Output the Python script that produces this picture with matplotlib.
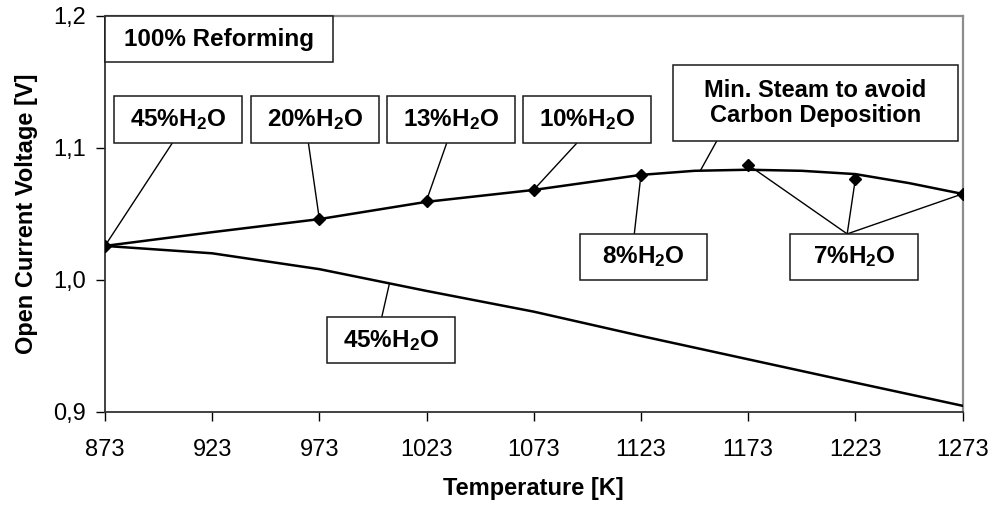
import numpy as np
import matplotlib
matplotlib.use("Agg")
import matplotlib.pyplot as plt
from matplotlib.patches import Rectangle

plt.rcParams['font.family'] = ['Liberation Sans', 'DejaVu Sans']
plt.rcParams['mathtext.fontset'] = 'custom'
plt.rcParams['mathtext.rm'] = 'Liberation Sans:bold'
plt.rcParams['mathtext.bf'] = 'Liberation Sans:bold'
plt.rcParams['mathtext.it'] = 'Liberation Sans:bold'

# Temperature grid [K]
temps = [873, 923, 973, 1023, 1073, 1123, 1173, 1223, 1273]

# OCV at minimum steam content (smooth curve)
min_steam_T = [873, 923, 973, 1023, 1073, 1123, 1148, 1173, 1198, 1223, 1248, 1273]
min_steam_V = [1.0256, 1.036, 1.0459, 1.059, 1.068, 1.0794, 1.0825, 1.0833,
               1.0825, 1.080, 1.0732, 1.065]

# OCV points at the individual steam contents
point_T = [873, 973, 1023, 1073, 1123, 1173, 1223, 1273]
point_V = [1.0256, 1.0459, 1.060, 1.0681, 1.0794, 1.087, 1.0762, 1.065]

# OCV at constant 45 % steam
h2o45_V = [1.0256, 1.020, 1.008, 0.9915, 0.9758, 0.9574, 0.9397, 0.922, 0.9045]

xticks = [873, 923, 973, 1023, 1073, 1123, 1173, 1223, 1273]
yticks = [0.9, 1.0, 1.1, 1.2]
ytick_labels = ["0,9", "1,0", "1,1", "1,2"]

fig = plt.figure(figsize=(9.92, 5.18), dpi=100)
ax = fig.add_axes([0.1058, 0.2052, 0.8645, 0.7645])

ax.plot(min_steam_T, min_steam_V, color='black', lw=1.8, zorder=3)
ax.plot(temps, h2o45_V, color='black', lw=1.8, zorder=3)
ax.plot(point_T, point_V, linestyle='none', marker='D', markersize=6.5,
        color='black', zorder=4)

ax.set_xlim(873, 1273)
ax.set_ylim(0.9, 1.2)
ax.set_xticks(xticks)
ax.set_xticklabels([str(t) for t in xticks])
ax.set_yticks(yticks)
ax.set_yticklabels(ytick_labels)
ax.tick_params(axis='both', direction='out', length=6.5, width=1.0,
               labelsize=17, colors='black')
ax.tick_params(axis='x', pad=13)
ax.tick_params(axis='y', pad=7)

for side in ['left', 'bottom']:
    ax.spines[side].set_color('#333333')
    ax.spines[side].set_linewidth(1.3)
for side in ['top', 'right']:
    ax.spines[side].set_color('#8c8c8c')
    ax.spines[side].set_linewidth(1.6)

ax.set_xlabel('Temperature [K]', fontsize=17, fontweight='bold', labelpad=12)
ax.set_ylabel('Open Current Voltage [V]', fontsize=17, fontweight='bold', labelpad=11)

h2o = lambda p: r'$\mathbf{' + p + r'\%H_2O}$'

# label boxes: (x0, x1, y0, y1) in data coordinates, text
boxes = [
    ((873.0, 979.3, 1.1646, 1.2), '100% Reforming'),
    ((877.3, 937.1, 1.1035, 1.1388), h2o('45')),
    ((941.0, 1000.6, 1.1035, 1.1388), h2o('20')),
    ((1004.7, 1064.3, 1.1035, 1.1388), h2o('13')),
    ((1068.1, 1127.7, 1.1035, 1.1388), h2o('10')),
    ((1137.8, 1271.0, 1.1052, 1.1623), 'Min. Steam to avoid\nCarbon Deposition'),
    ((1094.6, 1154.0, 0.9998, 1.0347), h2o('8')),
    ((1192.7, 1252.3, 0.9998, 1.0347), h2o('7')),
    ((976.7, 1036.3, 0.9367, 0.9716), h2o('45')),
]
for (x0, x1, y0, y1), txt in boxes:
    ax.add_patch(Rectangle((x0, y0), x1 - x0, y1 - y0, facecolor='white',
                           edgecolor='#1a1a1a', lw=1.1, zorder=6, clip_on=False))
    ax.text((x0 + x1) / 2, (y0 + y1) / 2, txt, ha='center', va='center',
            fontsize=17.5 if '\n' not in txt else 17, fontweight='bold',
            linespacing=1.1, zorder=7)

# leader lines from the boxes to the curve points
def leader(start, end):
    ax.plot([start[0], end[0]], [start[1], end[1]], color='black', lw=1.0,
            zorder=5, solid_capstyle='butt')

pt = dict(zip(point_T, point_V))
leader((904.4, 1.1035), (873, pt[873]))
leader((967.9, 1.1035), (973, pt[973]))
leader((1032.4, 1.1035), (1023, pt[1023]))
leader((1093.1, 1.1035), (1073, pt[1073]))
leader((1158.4, 1.1052), (1150.7, np.interp(1150.7, min_steam_T, min_steam_V)))
leader((1119.9, 1.0347), (1123, pt[1123]))
for t in (1173, 1223, 1273):
    leader((1219.2, 1.0347), (t, pt[t]))
leader((1002.1, 0.9716), (1005.7, np.interp(1005.7, temps, h2o45_V)))

fig.savefig('out.png', dpi=100)
